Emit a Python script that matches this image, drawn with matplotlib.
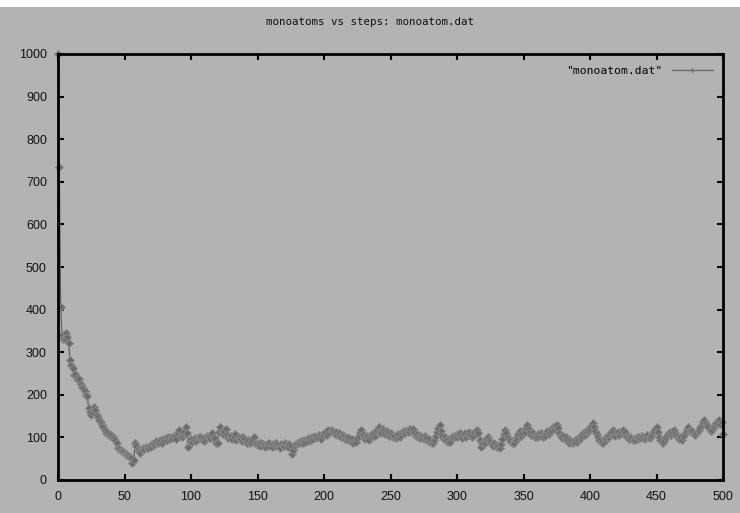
import matplotlib
matplotlib.use("Agg")
import matplotlib.pyplot as plt
from matplotlib.patches import Rectangle

title = "monoatoms vs steps: monoatom.dat"
legend_label = '"monoatom.dat"'
x_ticks = [0, 50, 100, 150, 200, 250, 300, 350, 400, 450, 500]
y_ticks = [0, 100, 200, 300, 400, 500, 600, 700, 800, 900, 1000]

monoatoms = [
    1000, 735, 405, 340, 331, 330, 345, 335, 322, 282,
    270, 262, 246, 250, 240, 235, 238, 225, 218, 216,
    210, 200, 198, 169, 160, 153, 158, 172, 165, 153,
    148, 140, 136, 130, 125, 118, 110, 112, 108, 104,
    105, 100, 98, 94, 88, 75, 72, 70, 68, 66,
    64, 62, 59, 57, 55, 52, 40, 48, 87, 80,
    72, 68, 63, 70, 75, 72, 78, 74, 76, 80,
    78, 84, 82, 88, 92, 86, 90, 94, 88, 96,
    92, 98, 95, 100, 96, 102, 98, 104, 100, 96,
    110, 117, 104, 100, 108, 112, 125, 110, 78, 92,
    96, 90, 94, 98, 92, 96, 100, 102, 96, 98,
    92, 96, 104, 100, 98, 106, 110, 102, 96, 88,
    87, 112, 125, 116, 108, 114, 120, 106, 98, 100,
    104, 96, 100, 108, 94, 98, 102, 96, 92, 100,
    96, 90, 88, 94, 86, 90, 96, 100, 88, 84,
    82, 86, 80, 88, 84, 82, 78, 84, 80, 86,
    82, 78, 84, 80, 86, 82, 80, 76, 84, 82,
    80, 86, 82, 78, 84, 80, 61, 70, 80, 84,
    88, 90, 86, 92, 88, 94, 90, 96, 92, 98,
    94, 100, 96, 104, 98, 102, 106, 100, 96, 104,
    108, 112, 106, 117, 110, 114, 118, 112, 108, 112,
    106, 110, 104, 100, 106, 102, 96, 100, 94, 98,
    92, 96, 88, 94, 90, 98, 104, 112, 117, 108,
    100, 96, 104, 98, 94, 100, 106, 110, 104, 112,
    118, 125, 116, 110, 120, 114, 108, 116, 110, 104,
    110, 106, 100, 104, 98, 102, 108, 102, 106, 112,
    116, 110, 114, 118, 112, 120, 114, 120, 110, 104,
    108, 102, 98, 104, 100, 96, 104, 98, 92, 96,
    90, 86, 87, 94, 104, 112, 122, 130, 116, 104,
    96, 100, 94, 90, 96, 90, 98, 104, 100, 106,
    102, 108, 110, 104, 98, 104, 110, 102, 106, 112,
    106, 100, 104, 112, 108, 117, 110, 94, 78, 86,
    92, 88, 96, 100, 94, 90, 84, 80, 86, 82,
    78, 80, 75, 84, 96, 108, 117, 110, 102, 96,
    92, 88, 86, 86, 94, 102, 108, 114, 104, 110,
    116, 112, 122, 130, 120, 112, 106, 110, 104, 100,
    102, 108, 104, 110, 106, 100, 104, 110, 116, 108,
    112, 118, 124, 120, 126, 130, 122, 110, 104, 98,
    104, 96, 100, 94, 88, 94, 90, 86, 90, 94,
    90, 96, 102, 98, 104, 110, 106, 112, 118, 114,
    120, 126, 133, 125, 116, 108, 100, 94, 90, 92,
    86, 92, 98, 104, 100, 108, 112, 117, 110, 104,
    108, 112, 106, 110, 114, 117, 112, 104, 100, 96,
    102, 98, 94, 96, 94, 100, 96, 102, 98, 104,
    100, 96, 102, 106, 102, 98, 104, 110, 116, 120,
    125, 112, 100, 94, 90, 86, 92, 98, 104, 108,
    112, 106, 110, 117, 110, 104, 100, 96, 100, 94,
    100, 106, 112, 118, 125, 118, 112, 116, 110, 106,
    110, 114, 118, 124, 130, 136, 141, 134, 128, 124,
    120, 116, 117, 124, 128, 134, 138, 141, 132, 135,
    108,
]
steps = list(range(len(monoatoms)))

BG = "#b3b3b3"
fig = plt.figure(figsize=(7.4, 5.13), dpi=100, facecolor=BG)
fig.patches.append(Rectangle((0, 1 - 7 / 513), 1, 7 / 513, transform=fig.transFigure,
                             facecolor="white", edgecolor="none", zorder=0))
ax = fig.add_axes([58 / 740, 1 - 480 / 513, (723 - 58) / 740, (480 - 54) / 513])
ax.set_facecolor(BG)

ax.plot(steps, monoatoms, color="#626262", linewidth=0.9, marker="D", markersize=3.6,
        markerfacecolor="#6a6a6a", markeredgecolor="#8a8a8a", markeredgewidth=0.7,
        label=legend_label, clip_on=False)

ax.set_xlim(0, 500)
ax.set_ylim(0, 1000)
ax.set_xticks(x_ticks)
ax.set_yticks(y_ticks)
ax.tick_params(direction="in", length=4, width=1.5, top=True, right=True,
               labelsize=9, colors="black", pad=8)
for lab in ax.get_xticklabels() + ax.get_yticklabels():
    lab.set_fontfamily("Liberation Sans")
    lab.set_color("#111111")
for s in ax.spines.values():
    s.set_linewidth(2)
    s.set_color("black")

fig.text(0.5, 1 - 22 / 513, title, ha="center", va="center",
         fontsize=7.8, family="DejaVu Sans Mono", color="#111111")

ax.legend(loc="upper right", frameon=False, prop={"family": "DejaVu Sans Mono", "size": 8.2},
          handlelength=3.6, borderaxespad=0.5, markerscale=0.6, numpoints=1,
          markerfirst=False, handletextpad=0.8, bbox_to_anchor=(1.0, 0.995))

fig.savefig("out.png", dpi=100, facecolor=BG)
